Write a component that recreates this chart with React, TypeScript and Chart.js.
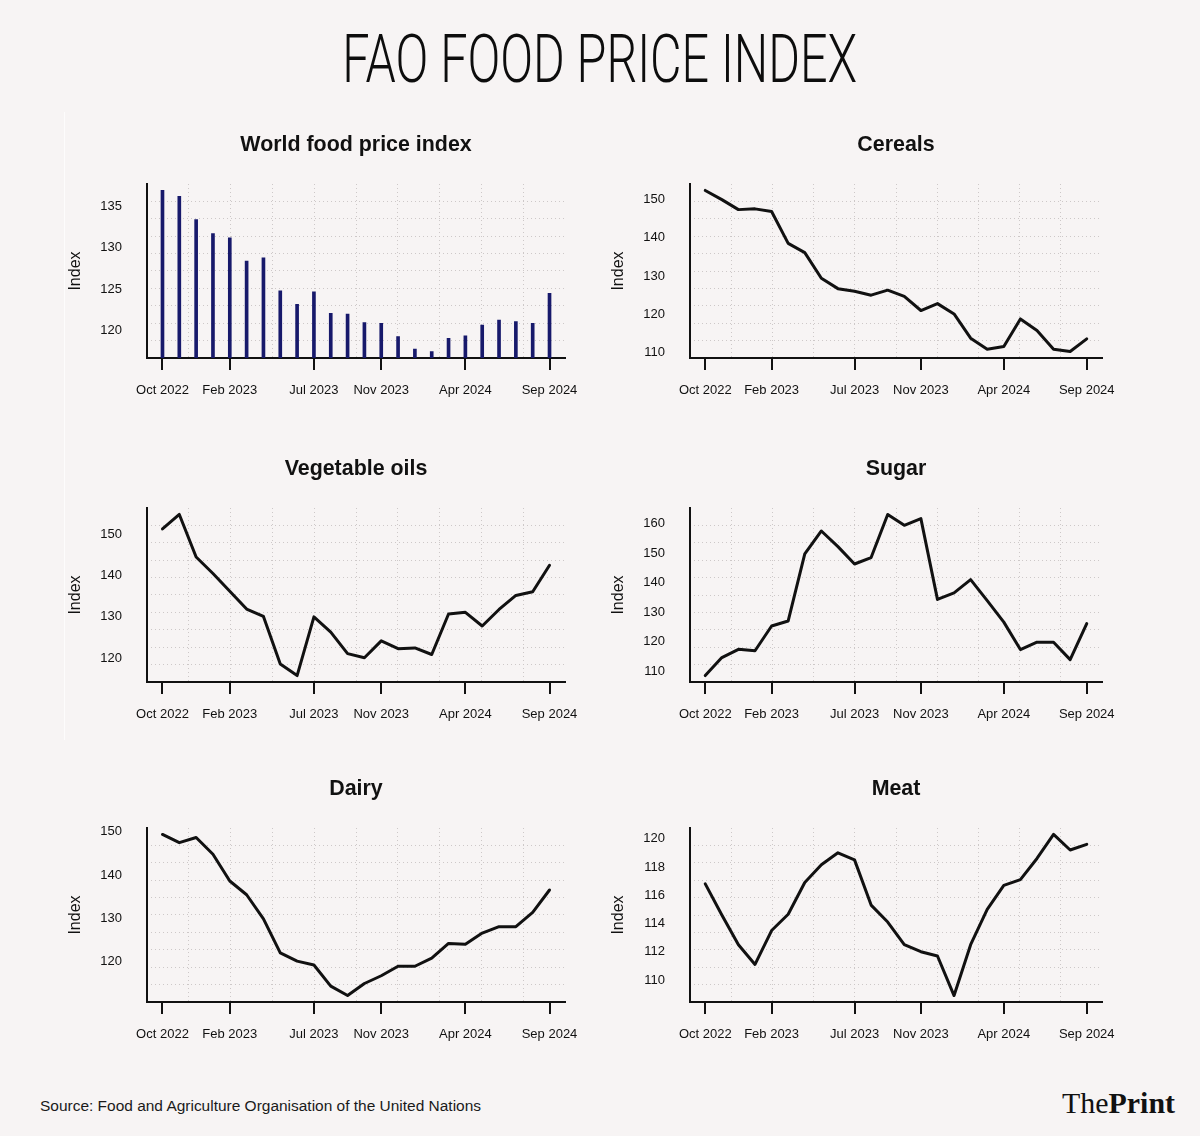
import React, { useEffect, useLayoutEffect, useRef } from "react";
import { Chart, registerables } from "chart.js";

Chart.register(...registerables);
Chart.defaults.font.family = "'Liberation Sans', Arial, Helvetica, sans-serif";

const months = [
  "Oct 2022", "Nov 2022", "Dec 2022", "Jan 2023", "Feb 2023", "Mar 2023",
  "Apr 2023", "May 2023", "Jun 2023", "Jul 2023", "Aug 2023", "Sep 2023",
  "Oct 2023", "Nov 2023", "Dec 2023", "Jan 2024", "Feb 2024", "Mar 2024",
  "Apr 2024", "May 2024", "Jun 2024", "Jul 2024", "Aug 2024", "Sep 2024",
];
const axisMonths = ["Oct 2022", "Feb 2023", "Jul 2023", "Nov 2023", "Apr 2024", "Sep 2024"];

const worldIndex = [136.9, 136.2, 133.4, 131.7, 131.2, 128.4, 128.8, 124.8, 123.2, 124.7, 122.1, 122.0, 121.0, 120.9, 119.3, 117.8, 117.5, 119.1, 119.4, 120.7, 121.3, 121.1, 120.9, 124.5];
const cereals = [152.3, 149.9, 147.3, 147.5, 146.8, 138.5, 136.1, 129.4, 126.7, 126.0, 125.0, 126.3, 124.7, 121.0, 122.8, 120.1, 113.8, 110.9, 111.6, 118.8, 115.8, 110.9, 110.3, 113.6];
const vegetableOils = [151.3, 154.8, 144.5, 140.5, 136.2, 131.9, 130.1, 118.6, 115.8, 130.0, 126.3, 121.1, 120.1, 124.2, 122.3, 122.5, 120.9, 130.7, 131.1, 127.8, 131.8, 135.2, 136.1, 142.5];
const sugar = [108.5, 114.6, 117.4, 116.9, 125.3, 127.0, 149.7, 157.5, 152.2, 146.3, 148.5, 163.1, 159.4, 161.7, 134.3, 136.5, 141.0, 133.9, 126.6, 117.3, 119.8, 119.8, 113.9, 126.1];
const dairy = [149.4, 147.5, 148.7, 144.8, 138.6, 135.4, 129.8, 121.9, 120.0, 119.1, 114.2, 112.0, 114.8, 116.6, 118.8, 118.8, 120.7, 124.1, 123.9, 126.5, 128.0, 128.0, 131.3, 136.5];
const meat = [116.8, 114.6, 112.5, 111.1, 113.5, 114.65, 116.9, 118.15, 119.0, 118.5, 115.3, 114.1, 112.5, 112.0, 111.7, 108.9, 112.5, 115.0, 116.7, 117.1, 118.6, 120.3, 119.2, 119.6];

const worldTicks = [120, 125, 130, 135];
const cerealsTicks = [110, 120, 130, 140, 150];
const vegOilsTicks = [120, 130, 140, 150];
const sugarTicks = [110, 120, 130, 140, 150, 160];
const dairyTicks = [120, 130, 140, 150];
const meatTicks = [110, 112, 114, 116, 118, 120];

const BG = "#f7f4f4";
const INK = "#111111";
const GRID = "#cdc8c8";

type PanelProps = {
  title: string;
  values: number[];
  ticks: number[];
  kind: "bar" | "line";
  left: number;
  top: number;
  rightPad: number;
};

function Panel({ title, values, ticks, kind, left, top, rightPad }: PanelProps) {
  const ref = useRef<HTMLCanvasElement | null>(null);
  useEffect(() => {
    if (!ref.current) return;
    const n = values.length;
    const xmin = -0.04 * (n - 1);
    const xmax = (n - 1) * 1.04;
    const vmin = Math.min(...values);
    const vmax = Math.max(...values);
    const r = vmax - vmin;
    const ymin = vmin - 0.04 * r;
    const ymax = vmax + 0.04 * r;
    const gx = Array.from({ length: 9 }, (_, k) => xmin + ((k + 1) * (xmax - xmin)) / 10);
    const gy = Array.from({ length: 9 }, (_, k) => ymin + ((k + 1) * (ymax - ymin)) / 10);
    const tickIdx = axisMonths.map((m) => months.indexOf(m));
    const color = kind === "bar" ? "#17196b" : INK;
    const chart = new Chart(ref.current, {
      type: kind,
      data: {
        datasets: [
          {
            data: values.map((v, i) => ({ x: i, y: v })),
            borderColor: color,
            backgroundColor: color,
            borderWidth: kind === "line" ? 3 : 0,
            pointRadius: 0,
            tension: 0,
            barThickness: 3,
            borderJoinStyle: "round",
            borderCapStyle: "round",
            xAxisID: "x",
            yAxisID: "y",
          } as any,
        ],
      },
      options: {
        animation: false,
        responsive: false,
        maintainAspectRatio: false,
        events: [],
        layout: { padding: { left: 0, right: rightPad, top: 0, bottom: 0 } },
        plugins: {
          legend: { display: false },
          tooltip: { enabled: false },
          title: {
            display: true,
            text: title,
            fullSize: false,
            color: INK,
            font: { size: 21.4, weight: "bold", lineHeight: 24 / 21.4 },
            padding: { top: 23, bottom: 27 },
          },
        },
        scales: {
          x: {
            type: "linear",
            position: "bottom",
            min: xmin,
            max: xmax,
            offset: false,
            afterBuildTicks: (s: any) => {
              s.ticks = tickIdx.map((v) => ({ value: v }));
            },
            afterFit: (s: any) => {
              s.height = 50;
            },
            ticks: {
              callback: (v: any) => months[Math.round(Number(v))],
              font: { size: 13 },
              color: INK,
              padding: 13,
              maxRotation: 0,
              autoSkip: false,
            },
            grid: { offset: false, drawOnChartArea: false, drawTicks: true, tickLength: 12, color: INK, lineWidth: 2 },
            border: { display: true, color: INK, width: 2 },
          },
          xg: {
            type: "linear",
            position: "bottom",
            min: xmin,
            max: xmax,
            offset: false,
            afterBuildTicks: (s: any) => {
              s.ticks = gx.map((v) => ({ value: v }));
            },
            afterFit: (s: any) => {
              s.height = 0;
            },
            ticks: { display: false },
            grid: { offset: false, drawOnChartArea: true, drawTicks: false, color: GRID, lineWidth: 1 },
            border: { display: false, dash: [1, 3] },
          },
          y: {
            type: "linear",
            position: "left",
            min: ymin,
            max: ymax,
            afterBuildTicks: (s: any) => {
              s.ticks = ticks.map((v) => ({ value: v }));
            },
            afterFit: (s: any) => {
              s.width = 147;
            },
            ticks: { font: { size: 13 }, color: INK, padding: 25, callback: (v: any) => String(v) },
            grid: { display: false, drawTicks: false },
            border: { display: true, color: INK, width: 2 },
            title: {
              display: true,
              text: "Index",
              color: INK,
              font: { size: 16 },
              padding: { top: 66, bottom: 0 },
            },
          },
          yg: {
            type: "linear",
            position: "left",
            min: ymin,
            max: ymax,
            afterBuildTicks: (s: any) => {
              s.ticks = gy.map((v) => ({ value: v }));
            },
            afterFit: (s: any) => {
              s.width = 0;
            },
            ticks: { display: false },
            grid: { offset: false, drawOnChartArea: true, drawTicks: false, color: GRID, lineWidth: 1 },
            border: { display: false, dash: [1, 3] },
          },
        },
      } as any,
    });
    return () => chart.destroy();
  }, [title, values, ticks, kind, rightPad]);
  return (
    <canvas
      ref={ref}
      width={600}
      height={298}
      style={{ position: "absolute", left, top, width: 600, height: 298 }}
    />
  );
}

function FitText({
  children,
  width,
  style,
  origin,
}: {
  children: React.ReactNode;
  width: number;
  style: React.CSSProperties;
  origin: string;
}) {
  const ref = useRef<HTMLSpanElement | null>(null);
  useLayoutEffect(() => {
    const el = ref.current;
    if (!el) return;
    el.style.transform = "none";
    const w = el.getBoundingClientRect().width;
    if (w > 0) el.style.transform = `scaleX(${width / w})`;
  });
  return (
    <span ref={ref} style={{ display: "inline-block", whiteSpace: "nowrap", transformOrigin: origin, ...style }}>
      {children}
    </span>
  );
}

export default function App() {
  return (
    <div
      style={{
        position: "absolute",
        left: 0,
        top: 0,
        width: 1200,
        height: 1136,
        background: BG,
        overflow: "hidden",
        fontFamily: "'Liberation Sans', Arial, Helvetica, sans-serif",
        color: INK,
      }}
    >
      <div style={{ position: "absolute", left: 0, top: 27, width: 1200, textAlign: "center", lineHeight: 1 }}>
        <FitText
          width={515}
          origin="center"
          style={{ fontFamily: "Roboto, 'Liberation Sans', sans-serif", fontWeight: 300, fontSize: 66, lineHeight: 1, color: "#0d0d0d" }}
        >
          FAO FOOD PRICE INDEX
        </FitText>
      </div>
      <div style={{ position: "absolute", left: 64, top: 112, width: 1, height: 628, background: "#fdfcfc" }} />
      <Panel title="World food price index" values={worldIndex} ticks={worldTicks} kind="bar" left={0} top={110} rightPad={35} />
      <Panel title="Cereals" values={cereals} ticks={cerealsTicks} kind="line" left={543} top={110} rightPad={41} />
      <Panel title="Vegetable oils" values={vegetableOils} ticks={vegOilsTicks} kind="line" left={0} top={434} rightPad={35} />
      <Panel title="Sugar" values={sugar} ticks={sugarTicks} kind="line" left={543} top={434} rightPad={41} />
      <Panel title="Dairy" values={dairy} ticks={dairyTicks} kind="line" left={0} top={754} rightPad={35} />
      <Panel title="Meat" values={meat} ticks={meatTicks} kind="line" left={543} top={754} rightPad={41} />
      <div style={{ position: "absolute", left: 40, top: 1098, lineHeight: 1 }}>
        <FitText width={441} origin="left" style={{ fontSize: 14, lineHeight: 1, color: "#1a1a1a" }}>
          Source: Food and Agriculture Organisation of the United Nations
        </FitText>
      </div>
      <div style={{ position: "absolute", left: 1062, top: 1089, lineHeight: 1 }}>
        <FitText width={113} origin="left" style={{ fontFamily: "'Liberation Serif', 'DejaVu Serif', serif", fontSize: 29, lineHeight: 1, color: "#111" }}>
          The<b>Print</b>
        </FitText>
      </div>
    </div>
  );
}
